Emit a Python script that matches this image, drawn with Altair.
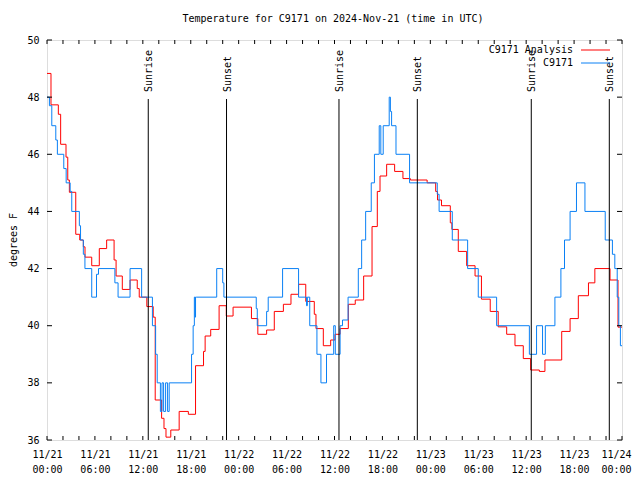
import altair as alt
import pandas as pd

FONT = "DejaVu Sans Mono"

# ---- data (hours after 2024-11-21 00:00 UTC, degrees F), step-after series ----
analysis_hours = [0.0, 0.5, 1.42, 1.71, 2.38, 2.6, 2.8, 3.6, 4.1, 4.55, 4.76, 5.6, 6.55, 7.47,
                  8.4, 8.65, 9.43, 10.4, 11.3, 11.55, 12.5, 13.3, 13.55, 14.35, 14.65, 14.9,
                  15.5, 16.55, 17.7, 18.6, 19.6, 19.8, 20.5, 21.55, 22.45, 23.3, 25.6, 26.4,
                  27.5, 28.46, 29.6, 30.55, 31.5, 32.4, 33.47, 33.68, 34.6, 35.52, 36.06,
                  36.7, 37.73, 38.6, 39.65, 40.7, 41.36, 41.7, 42.53, 43.53, 44.57, 45.5,
                  47.6, 48.67, 48.9, 49.4, 50.5, 50.7, 51.5, 52.55, 53.6, 54.4, 55.5, 56.5,
                  57.56, 58.6, 59.64, 60.56, 61.65, 62.35, 64.45, 65.5, 66.53, 67.8, 68.6,
                  70.5, 71.5, 72.0]
analysis_temps = [48.83, 47.73, 47.4, 46.35, 45.9, 45.1, 44.67, 43.2, 43.0, 42.76, 42.4, 42.1,
                  42.7, 43.0, 42.3, 41.74, 41.27, 41.6, 41.3, 41.0, 40.67, 40.3, 37.4, 36.76,
                  36.4, 36.1, 36.35, 37.0, 36.9, 38.6, 39.1, 39.64, 39.87, 40.7, 40.34, 40.65,
                  40.25, 39.7, 39.85, 40.5, 40.75, 41.1, 41.45, 40.85, 40.4, 39.9, 39.3, 39.5,
                  39.7, 39.9, 40.75, 40.9, 41.74, 43.47, 44.7, 45.24, 45.65, 45.4, 45.15,
                  45.1, 45.0, 44.7, 44.4, 44.2, 43.6, 43.37, 42.6, 42.1, 41.74, 40.93, 40.5,
                  39.96, 39.7, 39.3, 38.85, 38.45, 38.4, 38.8, 39.8, 40.25, 41.05, 41.5, 42.0,
                  41.6, 39.95, 39.95]

obs_hours = [0.0, 0.3, 0.6, 1.1, 1.3, 2.1, 2.4, 2.9, 3.1, 4.05, 4.2, 4.55, 4.75, 5.6, 6.2,
             6.45, 8.5, 8.9, 10.4, 11.85, 13.2, 13.6, 13.8, 14.2, 14.4, 14.6, 14.85, 15.1,
             15.3, 18.1, 18.3, 18.45, 18.55, 18.6, 18.7, 21.25, 22.0, 22.15, 26.2, 26.33,
             27.5, 27.7, 29.5, 31.5, 32.5, 32.6, 32.9, 33.8, 34.3, 35.0, 35.9, 36.1, 36.7,
             37.0, 37.7, 38.98, 39.4, 39.9, 40.6, 41.0, 41.6, 41.8, 42.1, 42.85, 43.0,
             43.15, 43.7, 45.4, 48.87, 49.1, 50.75, 52.67, 54.0, 56.3, 60.4, 61.3, 62.05,
             62.4, 63.6, 64.35, 64.8, 65.5, 66.3, 67.36, 69.9, 70.8, 71.1, 71.4, 71.6,
             71.8, 72.0]
obs_temps = [48, 47.7, 47, 46.5, 46, 45.5, 45, 44.7, 44, 43.5, 43, 42.5, 42, 41, 41.8,
             42, 41.5, 41, 42, 41, 40, 39, 38, 37, 38, 37, 38, 37,
             38, 39, 40, 41, 40.3, 41, 41, 42, 41.5, 41, 40.6, 40,
             40.5, 41, 42, 41, 40.7, 41, 40, 39, 38, 39, 40, 39, 40,
             40.2, 41, 42, 43, 44, 45, 46, 47, 46, 47, 48, 47.5,
             47, 46, 45, 44.6, 44, 43, 42, 41, 40, 39, 40, 39,
             40, 41, 42, 43, 44, 45, 44, 43, 42.5, 42, 41, 40,
             39.3, 39.3]

event_hours = [12.68, 22.48, 36.56, 46.37, 60.64, 70.41]
event_names = ["Sunrise", "Sunset", "Sunrise", "Sunset", "Sunrise", "Sunset"]

x_tick_hours = [0, 2, 4, 6, 8, 10, 12, 14, 16, 18, 20, 22, 24, 26, 28, 30, 32, 34, 36,
                38, 40, 42, 44, 46, 48, 50, 52, 54, 56, 58, 60, 62, 64, 66, 68, 70, 72]
x_label_hours = [0, 6, 12, 18, 24, 30, 36, 42, 48, 54, 60, 66, 72]
y_ticks = [36, 38, 40, 42, 44, 46, 48, 50]

series_names = ["C9171 Analysis", "C9171"]
series_colors = ["#ff0000", "#0a80f5"]

title_text = "Temperature for C9171 on 2024-Nov-21 (time in UTC)"
y_title = "degrees F"

# ---- frames ----
analysis_df = pd.DataFrame({"hour": analysis_hours, "temp": analysis_temps,
                            "series": series_names[0]})
obs_df = pd.DataFrame({"hour": obs_hours, "temp": obs_temps, "series": series_names[1]})
events_df = pd.DataFrame({"hour": event_hours, "name": event_names})
xt_df = pd.DataFrame({"hour": x_tick_hours})
yt_df = pd.DataFrame({"temp": y_ticks})

xscale = alt.Scale(domain=[0, 72], nice=False, zero=False)
yscale = alt.Scale(domain=[36, 50], nice=False, zero=False)
cscale = alt.Scale(domain=series_names, range=series_colors)

label_expr = ("['11/' + (21 + floor(datum.value / 24)), "
              "(datum.value % 24 < 10 ? '0' : '') + (datum.value % 24) + ':00']")

x_axis = alt.Axis(values=x_label_hours, labelExpr=label_expr, ticks=False,
                  domain=False, grid=False, title=None, labelFont=FONT,
                  labelFontSize=10, labelPadding=9, labelLineHeight=15,
                  labelColor="black", labelAngle=0, labelFlush=False,
                  labelOverlap=False,
                  labelOffset={"expr": "datum.value == 72 ? -6 : 0"})
y_axis = alt.Axis(values=y_ticks, ticks=False, domain=False, grid=False,
                  title=None, labelFont=FONT, labelFontSize=10, labelPadding=8,
                  labelColor="black", labelFlush=False, labelOverlap=False)
x_enc = alt.X("hour:Q", scale=xscale, axis=x_axis)
y_enc = alt.Y("temp:Q", scale=yscale, axis=y_axis)

events_rule = alt.Chart(events_df).mark_rule(color="black", strokeWidth=1).encode(
    x=x_enc, y=alt.value(59), y2=alt.value(400))
events_text = alt.Chart(events_df).mark_text(
    angle=270, align="left", baseline="middle", font=FONT, fontSize=10, color="black", dy=1
).encode(x=x_enc, y=alt.value(52), text="name:N")

red_line = alt.Chart(analysis_df).mark_line(interpolate="step-after", strokeWidth=1).encode(
    x=x_enc, y=y_enc, color=alt.Color("series:N", scale=cscale, legend=None))
blue_line = alt.Chart(obs_df).mark_line(interpolate="step-after", strokeWidth=1).encode(
    x=x_enc, y=y_enc, color=alt.Color("series:N", scale=cscale, legend=None))

xt_bottom = alt.Chart(xt_df).mark_rule(color="black").encode(
    x=x_enc, y=alt.value(400), y2=alt.value(396))
xt_top = alt.Chart(xt_df).mark_rule(color="black").encode(
    x=x_enc, y=alt.value(0), y2=alt.value(4))
yt_left = alt.Chart(yt_df).mark_rule(color="black").encode(
    y=y_enc, x=alt.value(0), x2=alt.value(5))
yt_right = alt.Chart(yt_df).mark_rule(color="black").encode(
    y=y_enc, x=alt.value(575), x2=alt.value(570))

leg_layers = []
for name, ypos in zip(series_names, [10, 23]):
    ldf = pd.DataFrame({"series": [name]})
    leg_layers.append(alt.Chart(ldf).mark_text(
        align="right", baseline="middle", font=FONT, fontSize=10, color="black"
    ).encode(text="series:N", x=alt.value(526), y=alt.value(ypos)))
    leg_layers.append(alt.Chart(ldf).mark_rule(strokeWidth=1).encode(
        x=alt.value(534), x2=alt.value(563), y=alt.value(ypos),
        color=alt.Color("series:N", scale=cscale, legend=None)))

title_mark = alt.Chart(pd.DataFrame({"t": [title_text]})).mark_text(
    font=FONT, fontSize=10, color="black", align="center", baseline="middle"
).encode(text="t:N", x=alt.value(286), y=alt.value(-21))
ytitle_mark = alt.Chart(pd.DataFrame({"t": [y_title]})).mark_text(
    font=FONT, fontSize=10, color="black", align="center", baseline="middle", angle=270
).encode(text="t:N", x=alt.value(-33), y=alt.value(200))

chart = alt.layer(
    red_line, blue_line, events_rule, events_text, xt_bottom, xt_top, yt_left, yt_right,
    *leg_layers, title_mark, ytitle_mark
).properties(
    width=575, height=400,
    autosize=alt.AutoSizeParams(type="none"),
    padding={"left": 39, "top": 32, "right": 10, "bottom": 40},
).configure_view(stroke="black", strokeWidth=1).configure(background="white")

chart.save("out.html", embed_options={"renderer": "svg", "actions": False})
